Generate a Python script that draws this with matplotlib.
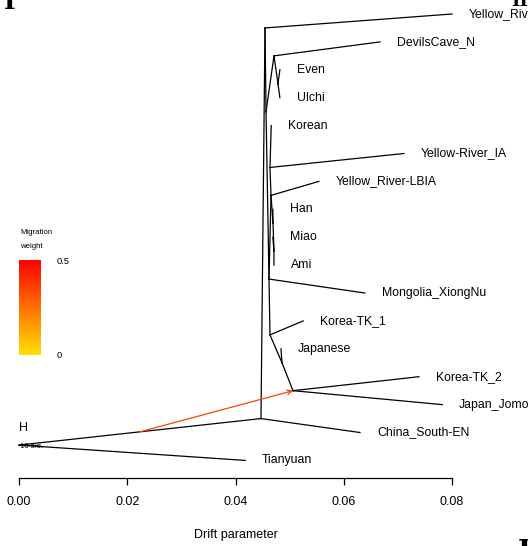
import matplotlib.pyplot as plt
from matplotlib.colors import LinearSegmentedColormap, Normalize
import matplotlib.cm as cm

plt.rcParams['font.family'] = ['Liberation Sans', 'DejaVu Sans']

# leaves, top to bottom (drift = x, row = y)
leaf_names = ['Yellow_River_MN', 'DevilsCave_N', 'Even', 'Ulchi', 'Korean',
              'Yellow-River_IA', 'Yellow_River-LBIA', 'Han', 'Miao', 'Ami',
              'Mongolia_XiongNu', 'Korea-TK_1', 'Japanese', 'Korea-TK_2',
              'Japan_Jomon', 'China_South-EN', 'Tianyuan']
leaf_drift = [0.0800, 0.0667, 0.0482, 0.0482, 0.0466,
              0.0711, 0.0554, 0.0469, 0.0469, 0.0471,
              0.0639, 0.0525, 0.0484, 0.0739,
              0.0782, 0.0630, 0.0418]
leaf_row = list(range(17))

# internal nodes
node_names = ['R', 'A', 'B', 'C', 'D', 'E', 'M', 'F', 'G', 'H', 'Q2', 'Q', 'S', 'S2']
node_drift = [0.0, 0.04471, 0.04545, 0.04564, 0.04711, 0.04785, 0.04619,
              0.04637, 0.04859, 0.05062, 0.04656, 0.04637, 0.04693, 0.04711]
node_row = [15.45, 14.5, 0.5, 3.5, 1.5, 2.5, 9.5, 11.5, 12.5, 13.5, 6.5, 5.5, 7.5, 8.5]

edges = [('R', 'Tianyuan'), ('R', 'A'), ('A', 'China_South-EN'), ('A', 'B'),
         ('B', 'Yellow_River_MN'), ('B', 'C'), ('C', 'D'), ('D', 'DevilsCave_N'),
         ('D', 'E'), ('E', 'Even'), ('E', 'Ulchi'), ('C', 'M'),
         ('M', 'Mongolia_XiongNu'), ('M', 'F'), ('F', 'Korea-TK_1'), ('F', 'G'),
         ('G', 'Japanese'), ('G', 'H'), ('H', 'Korea-TK_2'), ('H', 'Japan_Jomon'),
         ('M', 'Q2'), ('Q2', 'Yellow_River-LBIA'), ('Q2', 'Q'),
         ('Q', 'Yellow-River_IA'), ('Q', 'Korean'), ('Q2', 'S'),
         ('S', 'Han'), ('S', 'S2'), ('S2', 'Miao'), ('S2', 'Ami')]

# migration edge: from middle of R->A to H
mig_from = ('R', 'A')
mig_to = 'H'
mig_weight = 0.35

pos = {}
for n, x, y in zip(leaf_names, leaf_drift, leaf_row):
    pos[n] = (x, y)
for n, x, y in zip(node_names, node_drift, node_row):
    pos[n] = (x, y)

cmap = LinearSegmentedColormap.from_list('mig', ['#FFE000', '#FF0000'])

fig = plt.figure(figsize=(5.28, 5.46), dpi=100)
ax = fig.add_axes([19 / 528, 68 / 546, 433 / 528, 478 / 546])
ax.set_xlim(0, 0.08)
ax.set_ylim(16.63, -0.502)

for p, c in edges:
    x0, y0 = pos[p]
    x1, y1 = pos[c]
    ax.plot([x0, x1], [y0, y1], color='black', lw=0.9, clip_on=False)

for n in leaf_names:
    x, y = pos[n]
    ax.text(x + 0.00314, y, n, fontsize=8.8, ha='left', va='center', clip_on=False)

# migration arrow
(xa, ya), (xb, yb) = pos[mig_from[0]], pos[mig_from[1]]
start = ((xa + xb) / 2, (ya + yb) / 2)
ax.annotate('', xy=pos[mig_to], xytext=start,
            arrowprops=dict(arrowstyle='->', color=cmap(mig_weight / 0.5), lw=0.9,
                            shrinkA=0, shrinkB=0, mutation_scale=8),
            annotation_clip=False)

# scale bar
ax.plot([0, 0.0033], [15.45, 15.45], color='black', lw=0.9, clip_on=False)
ax.text(0.0002, 15.5, '10 s.e.', fontsize=5.6, ha='left', va='center', clip_on=False)
ax.text(0.0000, 14.84, 'H', fontsize=9, ha='left', va='center', clip_on=False)

for s in ['top', 'left', 'right']:
    ax.spines[s].set_visible(False)
ax.spines['bottom'].set_bounds(0, 0.08)
ax.spines['bottom'].set_linewidth(0.9)
ax.set_yticks([])
ax.set_xticks([0, 0.02, 0.04, 0.06, 0.08])
ax.set_xticklabels(['0.00', '0.02', '0.04', '0.06', '0.08'])
ax.tick_params(axis='x', direction='out', length=5, width=0.9, labelsize=9, pad=8)
ax.set_xlabel('Drift parameter', fontsize=9, labelpad=15)
ax.patch.set_alpha(0)

# migration weight legend
cax = fig.add_axes([19 / 528, 191 / 546, 22 / 528, 95 / 546])
sm = cm.ScalarMappable(norm=Normalize(0, 0.5), cmap=cmap)
cb = fig.colorbar(sm, cax=cax, ticks=[0, 0.5])
cb.ax.set_yticklabels(['0', '0.5'])
cb.ax.tick_params(length=0, labelsize=6.7, pad=11)
cb.outline.set_visible(False)
fig.text(20 / 528, 1 - 232 / 546, 'Migration', fontsize=5.6, ha='left', va='center')
fig.text(20 / 528, 1 - 246 / 546, 'weight', fontsize=5.6, ha='left', va='center')

# bits of neighbouring panels
fig.text(4 / 528, 1 - 9 / 546, 'I', fontsize=18, family='DejaVu Serif', weight='bold',
         ha='left', va='baseline')
fig.text(511 / 528, 1 - 6 / 546, 'II', fontsize=13, family='DejaVu Serif', weight='bold',
         ha='left', va='baseline')
fig.text(518 / 528, 1 - 560 / 546, 'I', fontsize=20, family='DejaVu Serif', weight='bold',
         ha='left', va='baseline')

fig.savefig('out.png', dpi=100)
